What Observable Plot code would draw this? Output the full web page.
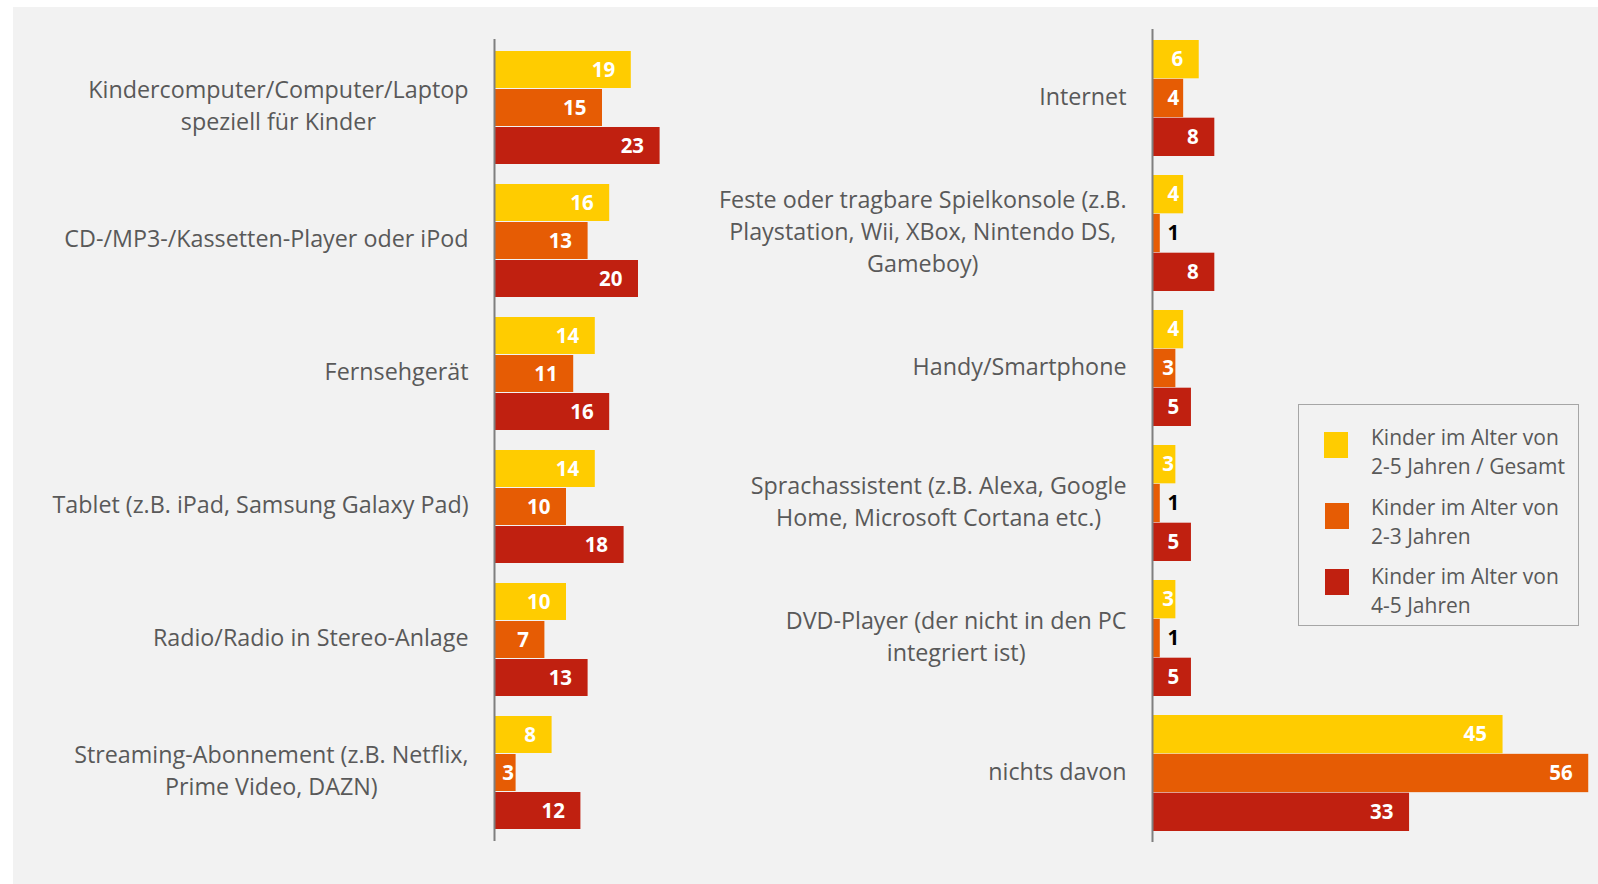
<!DOCTYPE html>
<html>
<head>
<meta charset="utf-8">
<script src="https://cdn.jsdelivr.net/npm/d3@7"></script>
<script src="https://cdn.jsdelivr.net/npm/@observablehq/plot@0.6"></script>
<style>
  html, body { margin: 0; padding: 0; background: #ffffff; }
  #wrap { position: relative; width: 1598px; height: 884px; overflow: hidden; font-family: "Open Sans", Lato, sans-serif; }
  #panelbg { position: absolute; left: 13px; top: 7px; right: 0; bottom: 0; background: #f2f2f2; }
  .plot { position: absolute; top: 0; }
  #legend { position: absolute; left: 1298px; top: 404px; width: 281px; height: 222px; box-sizing: border-box; border: 1.3px solid #a6a6a6; }
  .sw { position: absolute; width: 24px; height: 26px; }
  .lt { position: absolute; font-size: 21px; line-height: 29px; color: #595959; white-space: nowrap; }
</style>
</head>
<body>
<div id="wrap">
  <div id="panelbg"></div>
</div>
<script>
// ---------- data ----------
const seriesNames = [
  "Kinder im Alter von\n2-5 Jahren / Gesamt",
  "Kinder im Alter von\n2-3 Jahren",
  "Kinder im Alter von\n4-5 Jahren"
];
const seriesColors = ["#FFCC00", "#E65C04", "#C02010"];

const leftCategories = [
  "Kindercomputer/Computer/Laptop\nspeziell für Kinder",
  "CD-/MP3-/Kassetten-Player oder iPod",
  "Fernsehgerät",
  "Tablet (z.B. iPad, Samsung Galaxy Pad)",
  "Radio/Radio in Stereo-Anlage",
  "Streaming-Abonnement (z.B. Netflix,\nPrime Video, DAZN)"
];
const leftGesamt = [19, 16, 14, 14, 10, 8];
const leftJahre23 = [15, 13, 11, 10, 7, 3];
const leftJahre45 = [23, 20, 16, 18, 13, 12];

const rightCategories = [
  "Internet",
  "Feste oder tragbare Spielkonsole (z.B.\nPlaystation, Wii, XBox, Nintendo DS,\nGameboy)",
  "Handy/Smartphone",
  "Sprachassistent (z.B. Alexa, Google\nHome, Microsoft Cortana etc.)",
  "DVD-Player (der nicht in den PC\nintegriert ist)",
  "nichts davon"
];
const rightGesamt = [6, 4, 4, 3, 3, 45];
const rightJahre23 = [4, 1, 3, 1, 1, 56];
const rightJahre45 = [8, 8, 5, 5, 5, 33];

// ---------- helpers ----------
const FONT = "Open Sans";
const LABEL_SIZE = 23.3;
const VALUE_SIZE = 20.5;
const canvas = document.createElement("canvas");
const ctx = canvas.getContext("2d");
function textWidth(s, size) {
  ctx.font = `${size}px "${FONT}"`;
  return Math.max(...s.split("\n").map(l => ctx.measureText(l).width));
}

function panel(cfg) {
  const {cats, series, left, width, marginLeft, marginTop, marginBottom, pxPerUnit, xMax, padding} = cfg;
  const height = 884;
  const rows = [];
  series.forEach((vals, si) => cats.forEach((c, ci) => rows.push({cat: c, s: si, value: vals[ci]})));
  const step = (height - marginTop - marginBottom) / cats.length;
  const third = step * (1 - padding) / 3;

  const marks = [];
  // bars
  series.forEach((_, si) => {
    marks.push(Plot.barX(rows.filter(d => d.s === si), {
      x: "value", y: "cat", fill: seriesColors[si],
      insetTop: si * third, insetBottom: (2 - si) * third
    }));
  });
  // axis line
  marks.push(Plot.ruleX([0], {stroke: "#7f7f7f", strokeWidth: 2}));
  // category labels (block right-aligned, lines centered)
  cats.forEach(c => {
    const w = textWidth(c, LABEL_SIZE);
    marks.push(Plot.text([c], {
      x: () => 0, y: d => d, text: d => d,
      textAnchor: "middle", lineAnchor: "middle",
      dx: -(26 + w / 2), dy: -4, fontSize: LABEL_SIZE, lineHeight: 32 / LABEL_SIZE,
      fill: "#595959"
    }));
  });
  // value labels
  const big = d => d.value * pxPerUnit >= 42;       // inside end
  const tiny = d => d.value < 2;                     // outside, black
  const mid = d => !big(d) && !tiny(d) && d.value >= 4; // at the base
  const small = d => !big(d) && !tiny(d) && d.value < 4; // at the very end
  series.forEach((_, si) => {
    const dy = (si - 1) * third;
    const sub = rows.filter(d => d.s === si);
    const common = {y: "cat", text: d => String(d.value), dy, fontWeight: "bold", fontSize: VALUE_SIZE};
    marks.push(Plot.text(sub.filter(big), {...common, x: "value", textAnchor: "end", dx: -16, fill: "white"}));
    marks.push(Plot.text(sub.filter(small), {...common, x: "value", textAnchor: "end", dx: -2, fill: "white"}));
    marks.push(Plot.text(sub.filter(mid), {...common, x: () => 0, textAnchor: "start", dx: 15, fill: "white"}));
    marks.push(Plot.text(sub.filter(tiny), {...common, x: () => 0, textAnchor: "start", dx: 15, fill: "black"}));
  });

  const chart = Plot.plot({
    width, height,
    marginLeft, marginTop, marginBottom, marginRight: 0,
    x: {domain: [0, xMax], range: [marginLeft, marginLeft + xMax * pxPerUnit], axis: null},
    y: {domain: cats, paddingInner: padding, paddingOuter: padding / 2, axis: null},
    style: {fontFamily: `"${FONT}"`, background: "transparent", overflow: "visible"},
    marks
  });
  chart.classList.add("plot");
  chart.style.left = left + "px";
  return chart;
}

const wrap = document.getElementById("wrap");
wrap.appendChild(panel({
  cats: leftCategories, series: [leftGesamt, leftJahre23, leftJahre45],
  left: 0, width: 800, marginLeft: 494, marginTop: 39, marginBottom: 43,
  pxPerUnit: 7.2, xMax: 40, padding: 0.147
}));
wrap.appendChild(panel({
  cats: rightCategories, series: [rightGesamt, rightJahre23, rightJahre45],
  left: 800, width: 798, marginLeft: 352, marginTop: 29, marginBottom: 42,
  pxPerUnit: 7.79, xMax: 57, padding: 0.14
}));

// legend
const legend = document.createElement("div");
legend.id = "legend";
wrap.appendChild(legend);
const swTops = [27, 98, 164];
const txTops = [18, 88, 157];
seriesNames.forEach((name, i) => {
  const sw = document.createElement("div");
  sw.className = "sw";
  sw.style.left = (i === 0 ? 25 : 26) + "px";
  sw.style.top = swTops[i] + "px";
  sw.style.background = seriesColors[i];
  legend.appendChild(sw);
  const t = document.createElement("div");
  t.className = "lt";
  t.style.left = "72px";
  t.style.top = txTops[i] + "px";
  t.innerHTML = name.split("\n").join("<br>");
  legend.appendChild(t);
});
</script>
</body>
</html>
